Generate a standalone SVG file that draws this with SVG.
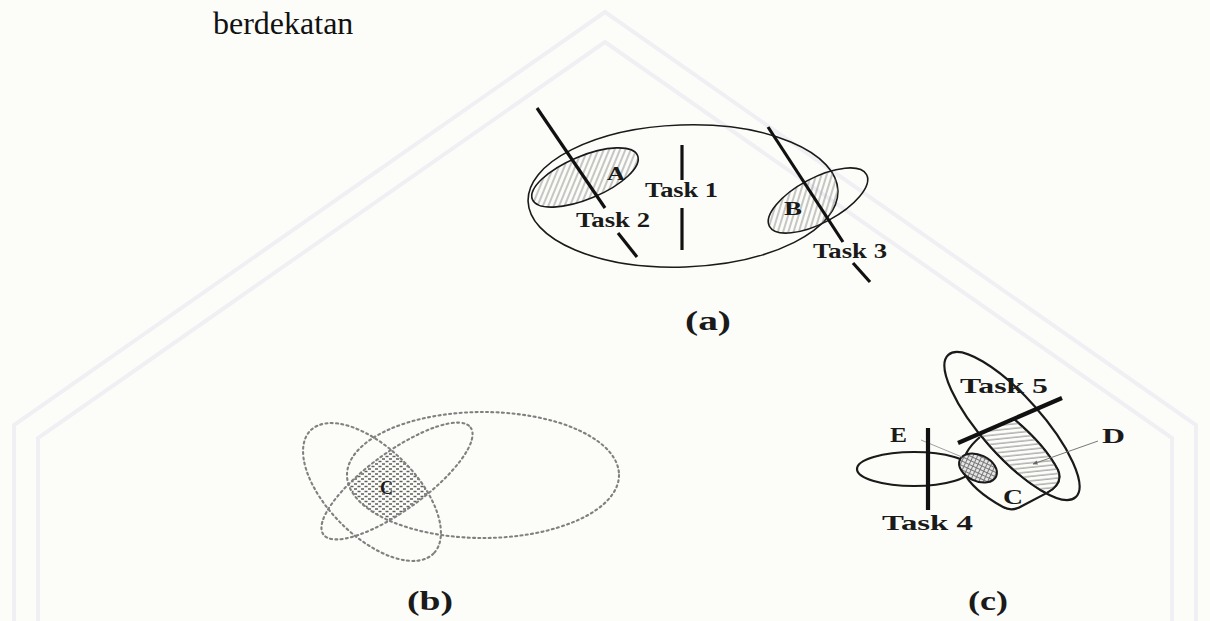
<svg xmlns="http://www.w3.org/2000/svg" width="1210" height="621" viewBox="0 0 1210 621">
<style>
.lbl{font-family:"Liberation Serif","Times New Roman",serif;font-weight:bold;fill:#1a1a1a}
.cap{font-family:"Liberation Serif","Times New Roman",serif;font-weight:normal;fill:#111}
.thin{fill:none;stroke:#1a1a1a;stroke-width:1.6}
.mid{fill:none;stroke:#1a1a1a;stroke-width:2.2}
.task{stroke:#111;stroke-width:3.2;stroke-linecap:butt}
.taskb{stroke:#111;stroke-width:4.2;stroke-linecap:butt}
.dot{fill:none;stroke:#808080;stroke-width:2.1;stroke-dasharray:2 3.3;stroke-linecap:round}
.wm{fill:none;stroke:#f0f0f4;stroke-width:4}
</style>
<defs>
<pattern id="hatchA" patternUnits="userSpaceOnUse" width="5" height="5" patternTransform="rotate(45)">
<line x1="1" y1="0" x2="1" y2="5" stroke="#8f8f8f" stroke-width="1"/>
</pattern>
<pattern id="hatchD" patternUnits="userSpaceOnUse" width="6" height="4.5" patternTransform="rotate(-6)">
<line x1="0" y1="1" x2="6" y2="1" stroke="#8a8a8a" stroke-width="1"/>
</pattern>
<pattern id="cross" patternUnits="userSpaceOnUse" width="4" height="4">
<rect width="4" height="4" fill="#e6e6e6"/>
<path d="M0 0.5H4M0.5 0V4" stroke="#777" stroke-width="1"/>
</pattern>
<pattern id="dashC" patternUnits="userSpaceOnUse" width="7" height="5">
<line x1="0.5" y1="1.5" x2="3.5" y2="1.5" stroke="#5f5f5f" stroke-width="1.5"/>
<line x1="4" y1="4" x2="7" y2="4" stroke="#5f5f5f" stroke-width="1.5"/>
</pattern>
<clipPath id="clipBig"><ellipse cx="683" cy="196" rx="155" ry="71" transform="rotate(-2 683 196)"/></clipPath>
<clipPath id="clipL"><ellipse cx="372" cy="492" rx="87" ry="44" transform="rotate(45 372 492)"/></clipPath>
<clipPath id="clipR"><ellipse cx="397" cy="481" rx="91" ry="29" transform="rotate(-36 397 481)"/></clipPath>
<marker id="arr" viewBox="0 0 10 10" refX="9" refY="5" markerWidth="5" markerHeight="5" orient="auto">
<path d="M0 1L10 5L0 9z" fill="#666"/>
</marker>
</defs>
<rect width="1210" height="621" fill="#fcfdf8"/>
<g id="watermark">
<polyline class="wm" points="14,621 14,425 605,12 1196,425 1196,621"/>
<polyline class="wm" points="38,621 38,438 605,42 1172,438 1172,621"/>
</g>
<text id="caption" class="cap" x="213" y="34" font-size="32">berdekatan</text>

<g id="panel-a">
<g id="a-big"><ellipse class="thin" cx="683" cy="196" rx="155" ry="71" transform="rotate(-2 683 196)"/></g>
<g id="a-A">
<g clip-path="url(#clipBig)"><ellipse cx="585" cy="177.5" rx="57" ry="21.5" transform="rotate(-22.7 585 177.5)" fill="url(#hatchA)"/></g>
<ellipse class="thin" cx="585" cy="177.5" rx="57" ry="21.5" transform="rotate(-22.7 585 177.5)"/>
<text class="lbl" x="607" y="180" font-size="19" textLength="18" lengthAdjust="spacingAndGlyphs">A</text>
</g>
<g id="a-B">
<g clip-path="url(#clipBig)"><ellipse cx="818" cy="200.5" rx="55" ry="22.5" transform="rotate(-28 818 200.5)" fill="url(#hatchA)"/></g>
<ellipse class="thin" cx="818" cy="200.5" rx="55" ry="22.5" transform="rotate(-28 818 200.5)"/>
<text class="lbl" x="784" y="215" font-size="19" textLength="18" lengthAdjust="spacingAndGlyphs">B</text>
</g>
<g id="a-task1">
<line class="task" x1="682" y1="145" x2="682" y2="180"/>
<line class="task" x1="682" y1="208" x2="682" y2="250"/>
<text class="lbl" x="645" y="197" font-size="20" textLength="73" lengthAdjust="spacingAndGlyphs">Task 1</text>
</g>
<g id="a-task2">
<line class="task" x1="537" y1="108" x2="605" y2="208"/>
<line class="task" x1="618" y1="233" x2="637" y2="257"/>
<text class="lbl" x="576" y="227" font-size="20" textLength="74" lengthAdjust="spacingAndGlyphs">Task 2</text>
</g>
<g id="a-task3">
<line class="task" x1="768" y1="127" x2="843" y2="242"/>
<line class="task" x1="853" y1="263" x2="870" y2="282"/>
<text class="lbl" x="813" y="258" font-size="20" textLength="74" lengthAdjust="spacingAndGlyphs">Task 3</text>
</g>
<text id="label-a" class="lbl" x="708" y="330" font-size="28" text-anchor="middle" textLength="46" lengthAdjust="spacingAndGlyphs">(a)</text>
</g>

<g id="panel-b">
<g id="b-region" clip-path="url(#clipL)"><g clip-path="url(#clipR)"><ellipse cx="483" cy="475" rx="136" ry="63" fill="url(#dashC)"/></g></g>
<g id="b-big"><ellipse class="dot" cx="483" cy="475" rx="136" ry="63"/></g>
<g id="b-left"><ellipse class="dot" cx="372" cy="492" rx="87" ry="44" transform="rotate(45 372 492)"/></g>
<g id="b-right"><ellipse class="dot" cx="397" cy="481" rx="91" ry="29" transform="rotate(-36 397 481)"/></g>
<text class="lbl" x="380" y="494" font-size="18" textLength="13" lengthAdjust="spacingAndGlyphs">C</text>
<text id="label-b" class="lbl" x="430" y="610" font-size="28" text-anchor="middle" textLength="46" lengthAdjust="spacingAndGlyphs">(b)</text>
</g>

<g id="panel-c">
<g id="c-outer"><ellipse class="mid" cx="1012" cy="426" rx="95.5" ry="30" transform="rotate(48.2 1012 426)"/></g>
<g id="c-E"><ellipse class="mid" cx="914" cy="469" rx="57" ry="17"/></g>
<g id="c-C"><path class="mid" d="M980,437 Q961,453 963,471 Q972,490 1003,507 Q1012,512 1022,506 L1046,493.4 Q1064,484 1058,470 Q1045,445 1014,419"/></g>
<g id="c-D"><path d="M979.4,434 L1014,419 Q1045,445 1058,470 Q1064,484 1046.4,493.4 A95.5 30 48.2 0 1 979.4,434 Z" fill="url(#hatchD)" stroke="#1a1a1a" stroke-width="1.4"/></g>
<g id="c-small"><ellipse cx="978" cy="468" rx="20" ry="13" transform="rotate(25 978 468)" fill="url(#cross)" stroke="#1a1a1a" stroke-width="2"/></g>
<g id="connectors">
<line x1="921" y1="440" x2="962" y2="457" stroke="#a0a0a0" stroke-width="1"/>
<line x1="1098" y1="441" x2="1033" y2="464" stroke="#777" stroke-width="1" marker-end="url(#arr)"/>
</g>
<g id="c-task4">
<line class="taskb" x1="928" y1="428" x2="928" y2="510"/>
<text class="lbl" x="882" y="530" font-size="22" textLength="91" lengthAdjust="spacingAndGlyphs">Task 4</text>
</g>
<g id="c-task5">
<line class="taskb" x1="958" y1="443" x2="1062" y2="398"/>
<text class="lbl" x="960" y="393" font-size="22" textLength="88" lengthAdjust="spacingAndGlyphs">Task 5</text>
</g>
<text class="lbl" x="890" y="442" font-size="21" textLength="17" lengthAdjust="spacingAndGlyphs">E</text>
<text class="lbl" x="1102" y="443" font-size="21" textLength="23" lengthAdjust="spacingAndGlyphs">D</text>
<text class="lbl" x="1003" y="504" font-size="21" textLength="20" lengthAdjust="spacingAndGlyphs">C</text>
<text id="label-c" class="lbl" x="988" y="610" font-size="28" text-anchor="middle" textLength="40" lengthAdjust="spacingAndGlyphs">(c)</text>
</g>
</svg>
